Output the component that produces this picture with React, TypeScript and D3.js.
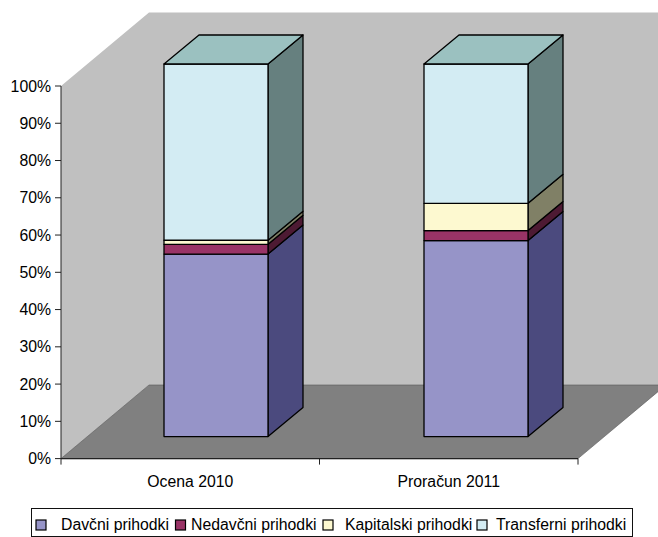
import React from 'react';
import * as d3 from 'd3';

const categories = ['Ocena 2010', 'Proračun 2011'];
const seriesNames = ['Davčni prihodki', 'Nedavčni prihodki', 'Kapitalski prihodki', 'Transferni prihodki'];
const davcni = [49.0, 52.6];
const nedavcni = [2.6, 2.7];
const kapitalski = [1.1, 7.3];
const transferni = [47.3, 37.4];
const yTicks = [0, 10, 20, 30, 40, 50, 60, 70, 80, 90, 100];

const frontColors = ['#9694c8', '#993366', '#fdf9d0', '#d3ecf3'];
const sideColors = ['#4b4a7e', '#4d1a33', '#808066', '#66807f'];
const topColor = '#9bc1c0';

const W = 658;
const H = 537;
const FONT = '"Liberation Sans", Arial, sans-serif';
const TEXT_SIZE = 15.8;

// wall/floor depth and where the bars sit inside it
const depth = { dx: 88, dy: 73.6 };
const barOffsetY = 22;
const barDepth = { dx: 35, dy: 29 };

const legendSwatchX = [36, 175.5, 323, 477];
const legendTextX = [61, 191, 345, 496];

const y = d3.scaleLinear().domain([0, 100]).range([458.6, 86]);
const xAxis = d3.scaleBand().domain(categories).range([61, 578]);
const xBars = d3.scaleBand().domain(categories).range([86, 606]);
const barWidth = xBars.bandwidth() * 0.4;

const rows = categories.map((c, i) => ({
  category: c,
  [seriesNames[0]]: davcni[i],
  [seriesNames[1]]: nedavcni[i],
  [seriesNames[2]]: kapitalski[i],
  [seriesNames[3]]: transferni[i],
}));
const stacked = d3.stack<any>().keys(seriesNames)(rows);

const poly = (pts: [number, number][]) => d3.line()(pts) + 'Z';

export default function App() {
  const x0 = y.range()[0];
  const left = xAxis.range()[0];
  const right = xAxis.range()[1];
  const backY = x0 - depth.dy;
  const topY = y(100) - depth.dy;

  return (
    <svg width={W} height={H} style={{ position: 'absolute', left: 0, top: 0 }} fontFamily={FONT}>
      {/* walls */}
      <path
        d={poly([
          [left, x0],
          [left, y(100)],
          [left + depth.dx, topY],
          [right + depth.dx, topY],
          [right + depth.dx, backY],
          [left + depth.dx, backY],
        ])}
        fill="#c0c0c0"
      />
      {/* floor */}
      <path
        d={poly([
          [left, x0],
          [left + depth.dx, backY],
          [right + depth.dx, backY],
          [right, x0],
        ])}
        fill="#808080"
        stroke="#555"
        strokeWidth={0.6}
      />

      {categories.map((c, ci) => {
        const xl = xBars(c)! + (xBars.bandwidth() - barWidth) / 2;
        const xr = xl + barWidth;
        const segs = stacked.map((s, si) => {
          const yb = y(s[ci][0]) - barOffsetY;
          const yt = y(s[ci][1]) - barOffsetY;
          return { si, yb, yt };
        });
        const last = segs[segs.length - 1];
        return (
          <g key={c} stroke="#000" strokeWidth={1.3} strokeLinejoin="round">
            {segs.map(({ si, yb, yt }) => (
              <g key={si}>
                <path
                  d={poly([
                    [xr, yb],
                    [xr + barDepth.dx, yb - barDepth.dy],
                    [xr + barDepth.dx, yt - barDepth.dy],
                    [xr, yt],
                  ])}
                  fill={sideColors[si]}
                />
                <rect x={xl} y={yt} width={barWidth} height={yb - yt} fill={frontColors[si]} />
              </g>
            ))}
            <path
              d={poly([
                [xl, last.yt],
                [xl + barDepth.dx, last.yt - barDepth.dy],
                [xr + barDepth.dx, last.yt - barDepth.dy],
                [xr, last.yt],
              ])}
              fill={topColor}
            />
          </g>
        );
      })}

      {/* y axis */}
      <line x1={left} x2={left} y1={y(0)} y2={y(100)} stroke="#222" strokeWidth={1} />
      {yTicks.map(t => (
        <g key={t}>
          <line x1={left - 6} x2={left} y1={y(t)} y2={y(t)} stroke="#222" strokeWidth={1} />
          <text x={51} y={y(t) + 5.5} textAnchor="end" fontSize={TEXT_SIZE} fill="#000">
            {t}%
          </text>
        </g>
      ))}

      {/* x axis */}
      <line x1={left} x2={right} y1={x0} y2={x0} stroke="#222" strokeWidth={1.2} />
      {[left, left + xAxis.step(), right].map(v => (
        <line key={v} x1={v} x2={v} y1={x0} y2={x0 + 6} stroke="#222" strokeWidth={1} />
      ))}
      {categories.map(c => (
        <text key={c} x={xAxis(c)! + xAxis.bandwidth() / 2} y={486.5} textAnchor="middle" fontSize={TEXT_SIZE} fill="#000">
          {c}
        </text>
      ))}

      {/* legend */}
      <rect x={31.5} y={508.5} width={601} height={28} fill="#fff" stroke="#111" strokeWidth={1} />
      {seriesNames.map((name, i) => (
        <g key={name}>
          <rect x={legendSwatchX[i]} y={520} width={10} height={10} fill={frontColors[i]} stroke="#000" strokeWidth={1.2} />
          <text x={legendTextX[i]} y={530} fontSize={TEXT_SIZE} fill="#000">
            {name}
          </text>
        </g>
      ))}
    </svg>
  );
}
